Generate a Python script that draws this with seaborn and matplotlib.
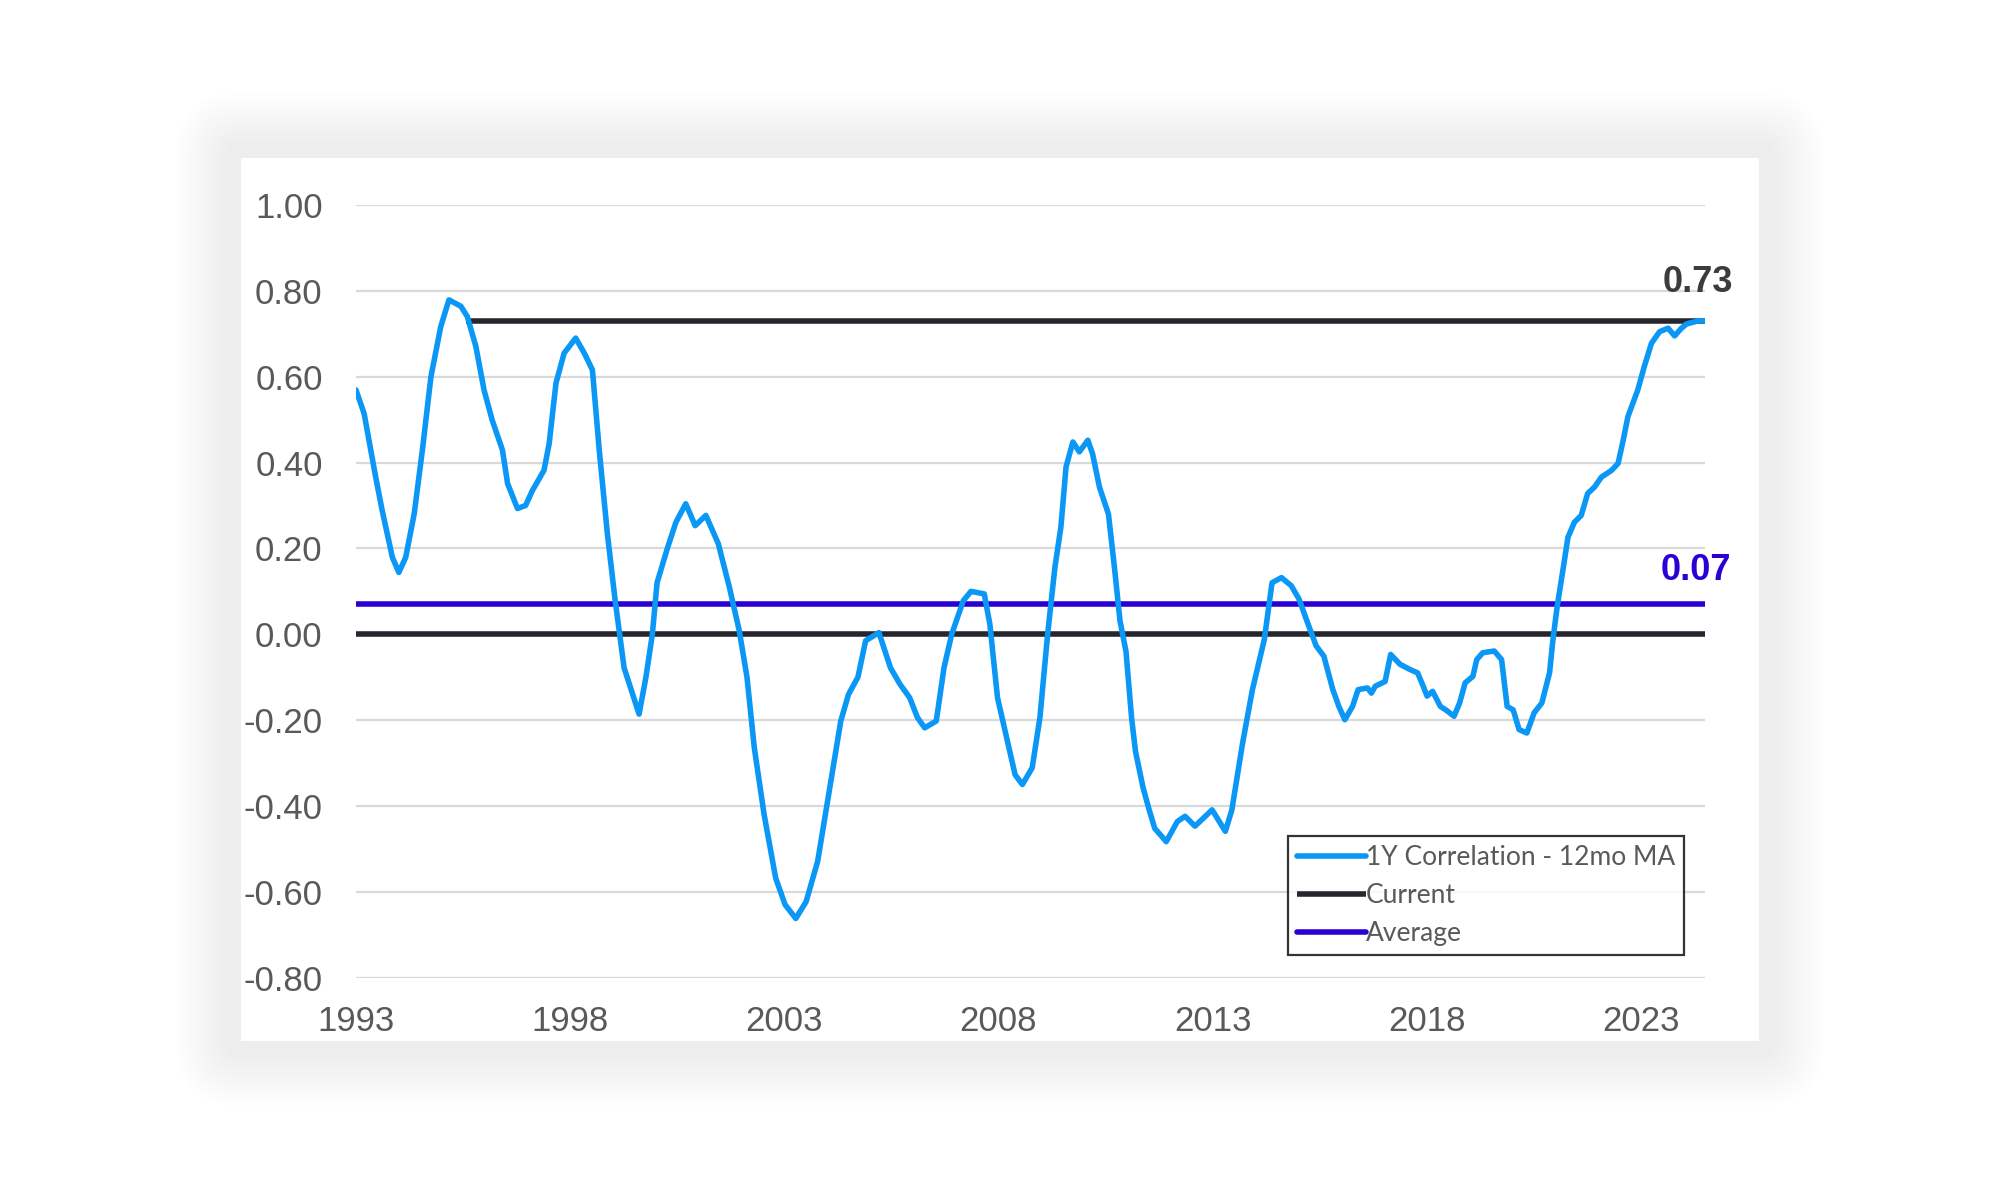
import numpy as np
import matplotlib.pyplot as plt
import matplotlib.patches as mpatches
from matplotlib.transforms import IdentityTransform
import pandas as pd
import seaborn as sns

# 1Y correlation, 12mo moving average
years = [
    1993.00, 1993.19, 1993.46, 1993.61, 1993.85, 1994.00, 1994.16, 1994.36, 1994.55, 1994.75,
    1994.98, 1995.17, 1995.45, 1995.60, 1995.80, 1995.99, 1996.18, 1996.42, 1996.54, 1996.77,
    1996.96, 1997.12, 1997.39, 1997.51, 1997.67, 1997.86, 1998.13, 1998.33, 1998.52, 1998.68,
    1998.87, 1999.05, 1999.26, 1999.61, 1999.77, 1999.92, 2000.03, 2000.27, 2000.47, 2000.70,
    2000.92, 2001.17, 2001.46, 2001.72, 2001.95, 2002.13, 2002.30, 2002.53, 2002.80, 2003.02,
    2003.27, 2003.51, 2003.78, 2004.05, 2004.32, 2004.50, 2004.72, 2004.90, 2005.21, 2005.48,
    2005.70, 2005.93, 2006.11, 2006.28, 2006.55, 2006.73, 2006.91, 2007.18, 2007.36, 2007.67,
    2007.80, 2007.98, 2008.21, 2008.39, 2008.56, 2008.79, 2008.97, 2009.15, 2009.32, 2009.46,
    2009.58, 2009.74, 2009.89, 2010.09, 2010.20, 2010.36, 2010.57, 2010.71, 2010.84, 2010.98,
    2011.11, 2011.20, 2011.38, 2011.51, 2011.65, 2011.92, 2012.18, 2012.36, 2012.59, 2012.99,
    2013.30, 2013.45, 2013.70, 2013.93, 2014.21, 2014.39, 2014.61, 2014.84, 2015.02, 2015.19,
    2015.42, 2015.60, 2015.81, 2015.95, 2016.09, 2016.27, 2016.40, 2016.62, 2016.71, 2016.80,
    2017.03, 2017.16, 2017.38, 2017.61, 2017.79, 2017.92, 2018.01, 2018.14, 2018.32, 2018.46,
    2018.64, 2018.77, 2018.90, 2019.08, 2019.17, 2019.31, 2019.58, 2019.75, 2019.88, 2020.02,
    2020.16, 2020.34, 2020.51, 2020.69, 2020.87, 2020.95, 2021.05, 2021.18, 2021.30, 2021.45,
    2021.61, 2021.76, 2021.92, 2022.08, 2022.32, 2022.47, 2022.59, 2022.70, 2022.93, 2023.08,
    2023.25, 2023.44, 2023.64, 2023.79, 2023.95, 2024.07, 2024.34, 2024.50,
]
correlation = [
    0.569, 0.514, 0.366, 0.289, 0.179, 0.144, 0.179, 0.281, 0.429, 0.600,
    0.717, 0.779, 0.764, 0.740, 0.670, 0.569, 0.499, 0.429, 0.351, 0.293,
    0.300, 0.335, 0.382, 0.444, 0.585, 0.655, 0.690, 0.655, 0.616, 0.429,
    0.234, 0.080, -0.078, -0.186, -0.100, 0.000, 0.120, 0.200, 0.261, 0.304,
    0.253, 0.277, 0.211, 0.109, 0.008, -0.100, -0.264, -0.420, -0.568, -0.630,
    -0.662, -0.623, -0.529, -0.366, -0.202, -0.140, -0.100, -0.015, 0.004, -0.078,
    -0.116, -0.148, -0.194, -0.218, -0.202, -0.078, 0.000, 0.078, 0.100, 0.094,
    0.024, -0.148, -0.249, -0.327, -0.350, -0.311, -0.194, 0.000, 0.156, 0.250,
    0.390, 0.448, 0.425, 0.452, 0.420, 0.343, 0.280, 0.156, 0.031, -0.040,
    -0.194, -0.272, -0.358, -0.405, -0.452, -0.483, -0.436, -0.424, -0.447, -0.409,
    -0.459, -0.410, -0.255, -0.130, -0.012, 0.120, 0.132, 0.113, 0.082, 0.035,
    -0.027, -0.051, -0.129, -0.168, -0.199, -0.168, -0.129, -0.125, -0.137, -0.121,
    -0.110, -0.047, -0.070, -0.082, -0.090, -0.121, -0.144, -0.133, -0.168, -0.177,
    -0.191, -0.160, -0.113, -0.098, -0.059, -0.043, -0.039, -0.059, -0.168, -0.176,
    -0.222, -0.230, -0.183, -0.160, -0.090, -0.012, 0.066, 0.148, 0.226, 0.261,
    0.277, 0.328, 0.343, 0.366, 0.382, 0.398, 0.452, 0.507, 0.569, 0.623,
    0.678, 0.705, 0.713, 0.695, 0.713, 0.723, 0.730, 0.730,
]

current_value = 0.73
current_start = 1995.56
average_value = 0.07

y_ticks = [1.00, 0.80, 0.60, 0.40, 0.20, 0.00, -0.20, -0.40, -0.60, -0.80]
x_ticks = [1993, 1998, 2003, 2008, 2013, 2018, 2023]

blue = '#0A97F5'
dark = '#26262E'
purple = '#2A00D4'
grey_text = '#595959'

df = pd.DataFrame({'year': years, 'corr': correlation})

sns.set_theme(style='white')
plt.rcParams['font.family'] = ['Liberation Sans', 'DejaVu Sans']

fig = plt.figure(figsize=(20, 12), dpi=100)
fig.patch.set_facecolor('white')

# white card with a soft, blurred shadow (pixel coordinates)
cx0, cy0, cx1, cy1 = 241, 159, 1759, 1042
step, sigma, peak = 3.0, 48.0, 0.075
for i in range(40, 0, -1):
    spread = i * step
    a = peak * (np.exp(-((spread - step) / sigma) ** 2) - np.exp(-(spread / sigma) ** 2))
    fig.patches.append(mpatches.FancyBboxPatch(
        (cx0, cy0), cx1 - cx0, cy1 - cy0,
        boxstyle=f'round,pad={spread},rounding_size={spread}',
        transform=IdentityTransform(), facecolor='black', edgecolor='none',
        linewidth=0, alpha=a, zorder=0))
fig.patches.append(mpatches.Rectangle(
    (cx0, cy0), cx1 - cx0, cy1 - cy0, transform=IdentityTransform(),
    facecolor='white', edgecolor='none', zorder=1))

ax = fig.add_axes([356 / 2000, 1 - 977.7 / 1200, (1705 - 356) / 2000, (977.7 - 205) / 1200])
ax.set_facecolor('none')
ax.set_zorder(2)

for t in y_ticks:
    ax.axhline(t, color='#D9D9D9', lw=1.6, zorder=1)

ax.axhline(0, color=dark, lw=4.0, zorder=2)
ax.plot([current_start, years[-1]], [current_value, current_value], color=dark, lw=4.0,
        solid_capstyle='butt', zorder=3, label='Current')
ax.axhline(average_value, color=purple, lw=4.0, zorder=3, label='Average')

sns.lineplot(data=df, x='year', y='corr', ax=ax, color=blue, lw=4.0, zorder=4,
             label='1Y Correlation - 12mo MA', legend=False,
             solid_joinstyle='round', solid_capstyle='round')

ax.set_xlim(1993, years[-1])
ax.set_ylim(-0.8, 1.0)
ax.set_yticks(y_ticks)
ax.set_yticklabels([f'{t:.2f}' for t in y_ticks])
ax.set_xticks(x_ticks)
ax.set_xticklabels([str(t) for t in x_ticks])
ax.tick_params(axis='both', length=0, labelsize=25, labelcolor=grey_text)
ax.tick_params(axis='y', pad=24)
ax.tick_params(axis='x', pad=20)
ax.set_xlabel('')
ax.set_ylabel('')
for s in ax.spines.values():
    s.set_visible(False)

ax.text(2025.15, 0.819, f'{current_value:.2f}', ha='right', va='center', fontsize=26,
        fontweight='bold', color='#3C3C3C', clip_on=False)
ax.text(2025.10, 0.148, f'{average_value:.2f}', ha='right', va='center', fontsize=26,
        fontweight='bold', color=purple, clip_on=False)

handles, labels = ax.get_legend_handles_labels()
order = [labels.index('1Y Correlation - 12mo MA'), labels.index('Current'), labels.index('Average')]
leg = ax.legend([handles[i] for i in order], [labels[i] for i in order],
                loc='lower left', bbox_to_anchor=(1288 / 2000, 1 - 955 / 1200),
                bbox_transform=fig.transFigure, borderaxespad=0, frameon=True,
                fancybox=False, handlelength=2.6, handletextpad=0.0,
                labelspacing=0.48, borderpad=0.35, prop={'family': 'Lato', 'size': 19})
leg.get_frame().set_edgecolor('black')
leg.get_frame().set_linewidth(1.6)
for txt in leg.get_texts():
    txt.set_color(grey_text)

fig.savefig('out.png', dpi=100, facecolor='white')
